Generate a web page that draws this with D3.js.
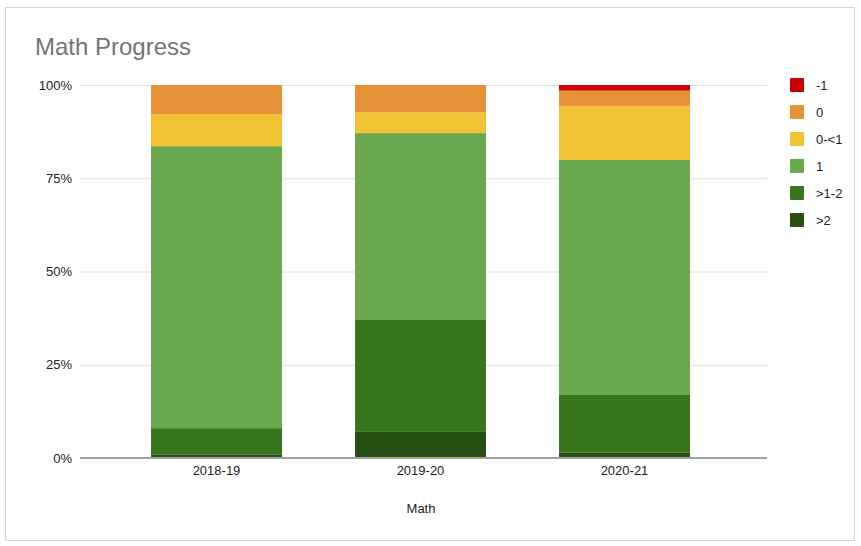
<!DOCTYPE html>
<html><head><meta charset="utf-8">
<script src="https://cdn.jsdelivr.net/npm/d3@7"></script>
<style>body{margin:0;background:#fff}svg{display:block;font-family:Arial,"Liberation Sans",sans-serif}</style>
</head><body><svg id="c" width="861" height="546"></svg>
<script>
const categories = ["2018-19", "2019-20", "2020-21"];
const seriesNames = ["-1", "0", "0-<1", "1", ">1-2", ">2"];
const colors = ["#cc0000", "#e69138", "#f1c232", "#6aa84f", "#38761d", "#274e13"];
const vNeg1 = [0, 0, 1.5];
const v0 = [7.8, 7.3, 4.1];
const v0to1 = [8.6, 5.6, 14.5];
const v1 = [75.6, 50.1, 63.0];
const v1to2 = [7.0, 30.0, 15.4];
const vGt2 = [1.0, 7.0, 1.5];
const yTicks = [0, 25, 50, 75, 100];
const title = "Math Progress";
const xTitle = "Math";

const seriesVals = [vNeg1, v0, v0to1, v1, v1to2, vGt2];
const rows = categories.map((c, i) => {
  const r = {cat: c};
  seriesNames.forEach((s, j) => r[s] = seriesVals[j][i]);
  return r;
});
const stackOrder = seriesNames.slice().reverse();
const stack = d3.stack().keys(stackOrder)(rows);
const colorOf = d3.scaleOrdinal().domain(seriesNames).range(colors);

const svg = d3.select("#c");
svg.append("rect").attr("x", 5.5).attr("y", 7.5).attr("width", 849).attr("height", 533)
  .attr("fill", "#fff").attr("stroke", "#d4d4d4");

const x = d3.scaleBand().domain(categories).range([114.5, 726.5]).paddingInner(0.358).paddingOuter(0.179);
const y = d3.scaleLinear().domain([0, 100]).range([458, 85]);

svg.append("text").attr("x", 35).attr("y", 55).attr("font-size", 24).attr("fill", "#757575").text(title);

svg.append("g").selectAll("line").data(yTicks.filter(t => t > 0)).join("line")
  .attr("x1", 80).attr("x2", 767).attr("y1", d => y(d) + 0.5).attr("y2", d => y(d) + 0.5)
  .attr("stroke", "#e0e0e0");

const yAxis = d3.axisLeft(y).tickValues(yTicks).tickFormat(d => d + "%").tickSize(0).tickPadding(0);
const ya = svg.append("g").attr("transform", "translate(72,0)").call(yAxis);
ya.select(".domain").remove();
ya.selectAll("text").attr("font-size", 13).attr("fill", "#222").attr("font-family", "Arial, Liberation Sans, sans-serif");

svg.append("g").selectAll("g").data(stack).join("g")
  .attr("fill", d => colorOf(d.key))
  .selectAll("rect").data(d => d).join("rect")
  .attr("x", d => x(d.data.cat)).attr("width", x.bandwidth())
  .attr("y", d => y(d[1])).attr("height", d => Math.max(0, y(d[0]) - y(d[1])));

svg.append("line").attr("x1", 80).attr("x2", 767).attr("y1", y(0)).attr("y2", y(0))
  .attr("stroke", "#a0a0a0").attr("stroke-width", 2);

const xAxis = d3.axisBottom(x).tickSize(0).tickPadding(0);
const xa = svg.append("g").attr("transform", "translate(0,466)").call(xAxis);
xa.select(".domain").remove();
xa.selectAll("text").attr("font-size", 13).attr("fill", "#222").attr("font-family", "Arial, Liberation Sans, sans-serif");

svg.append("text").attr("x", 421).attr("y", 513).attr("text-anchor", "middle")
  .attr("font-size", 13).attr("fill", "#222").text(xTitle);

const lg = svg.append("g").selectAll("g").data(seriesNames).join("g")
  .attr("transform", (d, i) => `translate(790,${78 + i * 27})`);
lg.append("rect").attr("width", 14).attr("height", 14).attr("rx", 1).attr("fill", d => colorOf(d));
lg.append("text").attr("x", 26).attr("y", 12).attr("font-size", 13).attr("fill", "#222").text(d => d);
</script></body></html>
